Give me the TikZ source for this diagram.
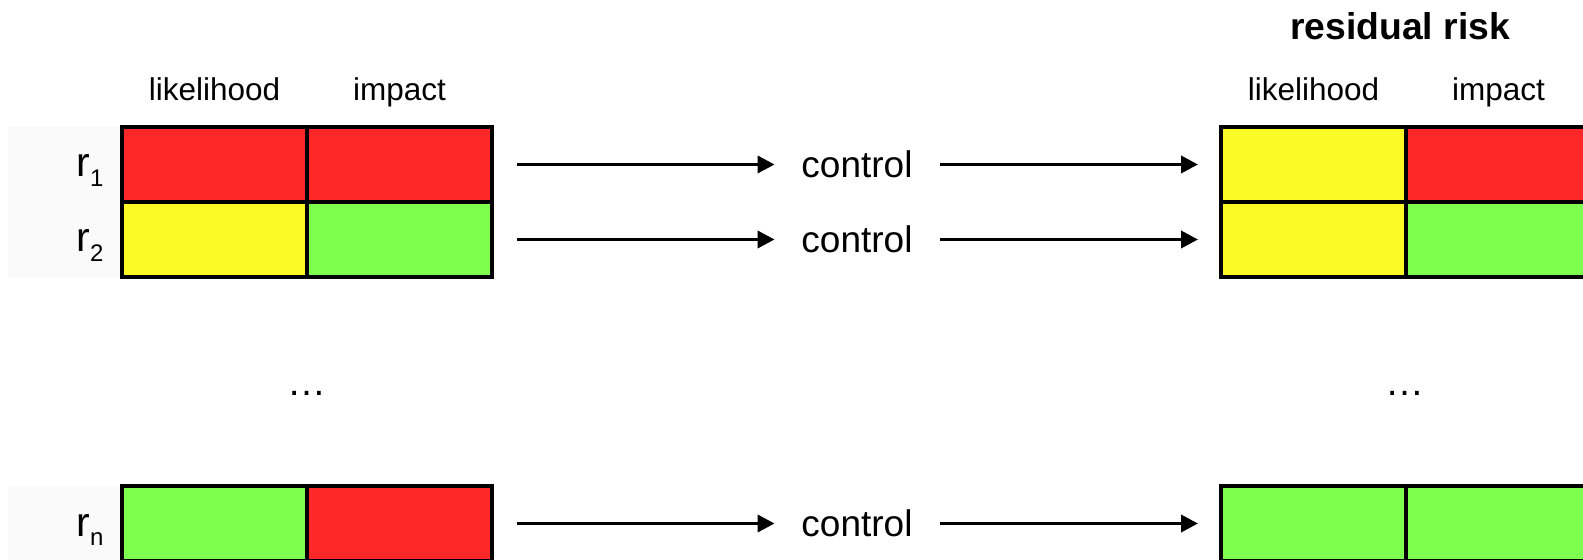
\documentclass[tikz,border=0pt]{standalone}
\usepackage{fontspec}
\setmainfont{Liberation Sans}
\usetikzlibrary{arrows.meta}
\definecolor{riskred}{RGB}{255,40,40}
\definecolor{riskyellow}{RGB}{252,250,38}
\definecolor{riskgreen}{RGB}{126,255,80}
\definecolor{labelbg}{RGB}{250,250,250}
\newcommand{\rlab}[1]{r\raisebox{-5pt}{\fontsize{12}{14}\selectfont #1}}
\begin{document}
\begin{tikzpicture}[x=0.5pt,y=-0.5pt,
  cell/.style={draw=black, line width=1.9pt, minimum width=92.5pt,
    minimum height=37.5pt, inner sep=0pt, outer sep=0pt},
  hdr/.style={font=\fontsize{15.75}{18}\selectfont, anchor=base, inner sep=0pt},
  title/.style={font=\fontsize{18.65}{22}\selectfont\bfseries, anchor=base, inner sep=0pt},
  ctrl/.style={font=\fontsize{18.5}{22}\selectfont, inner sep=0pt},
  dots/.style={font=\fontsize{19.5}{23}\selectfont, anchor=base, inner sep=0pt},
  rowlab/.style={font=\fontsize{20.5}{24}\selectfont, anchor=base west, inner sep=0pt},
  labbg/.style={fill=labelbg, draw=none},
  arr/.style={line width=1.8pt, -{Triangle[length=8.5pt,width=8.5pt]}},
  inarr/.style={arr, shorten <=12.5pt, shorten >=13.25pt},
  outarr/.style={arr, shorten <=13.75pt, shorten >=11.5pt},
]
\clip (0,0) rectangle (1583,560);

% faint panels behind the row labels
\path[labbg] (8,127) rectangle (122,277);
\path[labbg] (8,486) rectangle (122,561);

% column headings
\node[hdr] (hL1) at (214.5,101) {likelihood};
\node[hdr] (hL2) at (399.5,101) {impact};
\node[hdr] (hR1) at (1313.5,101) {likelihood};
\node[hdr] (hR2) at (1498.5,101) {impact};
\node[title] (res) at (1400,40) {residual risk};

% row labels
\node[rowlab] (lab1) at (76,177) {\rlab{1}};
\node[rowlab] (lab2) at (76,252) {\rlab{2}};
\node[rowlab] (labn) at (76,536) {\rlab{n}};

% inherent risk table
\node[cell, fill=riskred]    (L1a) at (214.5,164.5) {};
\node[cell, fill=riskred]    (L1b) at (399.5,164.5) {};
\node[cell, fill=riskyellow] (L2a) at (214.5,239.5) {};
\node[cell, fill=riskgreen]  (L2b) at (399.5,239.5) {};
\node[cell, fill=riskgreen]  (Lna) at (214.5,523.5) {};
\node[cell, fill=riskred]    (Lnb) at (399.5,523.5) {};

% residual risk table
\node[cell, fill=riskyellow] (R1a) at (1313.5,164.5) {};
\node[cell, fill=riskred]    (R1b) at (1498.5,164.5) {};
\node[cell, fill=riskyellow] (R2a) at (1313.5,239.5) {};
\node[cell, fill=riskgreen]  (R2b) at (1498.5,239.5) {};
\node[cell, fill=riskgreen]  (Rna) at (1313.5,523.5) {};
\node[cell, fill=riskgreen]  (Rnb) at (1498.5,523.5) {};

% omitted rows
\node[dots] (dL) at (307,396) {…};
\node[dots] (dR) at (1405,396) {…};

% controls
\node[ctrl] (c1) at (857,164.5) {control};
\node[ctrl] (c2) at (857,239.5) {control};
\node[ctrl] (cn) at (857,523.5) {control};

\draw[inarr] (L1b.east) -- (c1.west);
\draw[inarr] (L2b.east) -- (c2.west);
\draw[inarr] (Lnb.east) -- (cn.west);
\draw[outarr] (c1.east) -- (R1a.west);
\draw[outarr] (c2.east) -- (R2a.west);
\draw[outarr] (cn.east) -- (Rna.west);
\end{tikzpicture}
\end{document}
